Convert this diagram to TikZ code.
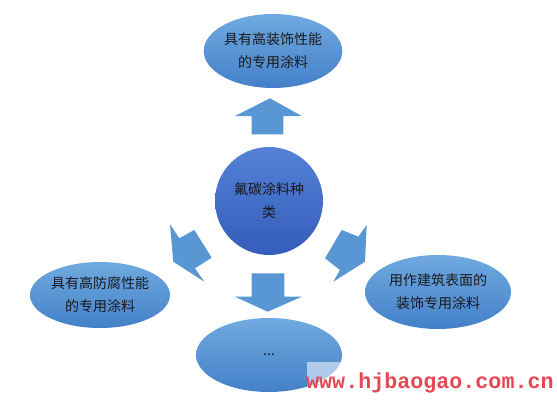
\documentclass[tikz,border=0pt]{standalone}
\usepackage{fontspec}
\newfontfamily\cjk{Noto Sans CJK SC}
\newfontfamily\wmfont{Liberation Mono}
\usetikzlibrary{shapes.geometric}
\definecolor{arrowblue}{RGB}{88,150,212}
\definecolor{elltop}{RGB}{112,170,224}
\definecolor{ellbot}{RGB}{68,128,200}
\definecolor{circtop}{RGB}{84,130,214}
\definecolor{circbot}{RGB}{52,92,186}
\definecolor{txt}{RGB}{25,25,30}
\definecolor{wmred}{RGB}{228,72,84}
\tikzset{
  leaf/.style={ellipse, shading=axis, top color=elltop, bottom color=ellbot, draw=none,
    inner sep=0pt, align=center, text=txt, font=\cjk\fontsize{14}{23}\selectfont},
  hub/.style={circle, shading=axis, top color=circtop, bottom color=circbot, draw=none,
    minimum size=108pt, inner sep=0pt, align=center, text=txt, font=\cjk\fontsize{14}{23}\selectfont},
  blockarrow/.style={fill=arrowblue, draw=none}
}
\begin{document}
\begin{tikzpicture}[x=1pt,y=-1pt]
\useasboundingbox (0,0) rectangle (557,412);
% nodes
\node[hub] (c) at (269,201) {氟碳涂料种\\类};
\node[leaf, minimum width=138pt, minimum height=74pt] (t) at (273,51) {具有高装饰性能\\的专用涂料};
\node[leaf, minimum width=140pt, minimum height=66pt] (l) at (100,295) {具有高防腐性能\\的专用涂料};
\node[leaf, minimum width=146pt, minimum height=74pt] (r) at (438,292) {用作建筑表面的\\装饰专用涂料};
\node[leaf, minimum width=146pt, minimum height=74pt] (b) at (269,355) {...};
% block arrows
\fill[blockarrow] (251.7,134.3) -- (251.7,116) -- (235,116) -- (270,98.3) -- (301.7,116) -- (283.3,116) -- (283.3,134.3) -- cycle;
\fill[blockarrow] (251.7,273.3) -- (284.3,273.3) -- (284.3,296.7) -- (301.7,296.7) -- (267.7,311.7) -- (235,296.7) -- (251.7,296.7) -- cycle;
\fill[blockarrow] (194.3,230) -- (211.7,257.7) -- (195,268.3) -- (204.3,281.7) -- (173.3,261.7) -- (170,224.3) -- (179.3,238.3) -- cycle;
\fill[blockarrow] (341.7,230) -- (358.3,236.7) -- (366.7,225) -- (365,261.7) -- (333.3,281.7) -- (340,270) -- (325,258.3) -- cycle;
% watermark
\fill[white, fill opacity=0.55] (307,362) rectangle (557,412);
\node[anchor=base west, inner sep=0pt, text=wmred, font=\wmfont\bfseries\fontsize{21.7}{24}\selectfont] (wm) at (306,388.5) {www.hjbaogao.com.cn};
\end{tikzpicture}
\end{document}
